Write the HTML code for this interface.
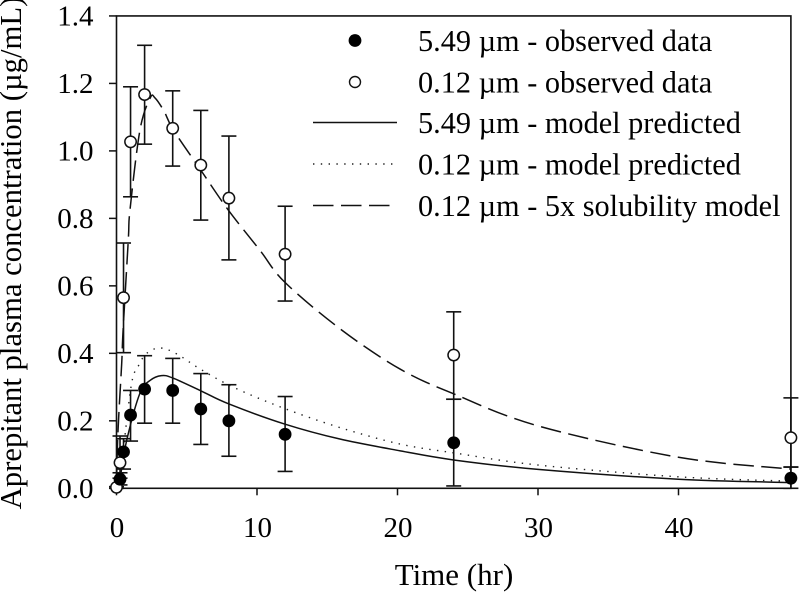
<!DOCTYPE html>
<html>
<head>
<meta charset="utf-8">
<title>Aprepitant plasma concentration</title>
<style>
html,body{margin:0;padding:0;background:#fff;width:799px;height:592px;overflow:hidden}
svg{display:block}
text{font-family:"Liberation Serif",serif;fill:#000}
</style>
</head>
<body>
<svg id="chart" xmlns="http://www.w3.org/2000/svg" width="799" height="592" viewBox="0 0 799 592"></svg>
<script>
const xTicks = [0, 10, 20, 30, 40];
const yTicks = ["0.0", "0.2", "0.4", "0.6", "0.8", "1.0", "1.2", "1.4"];
const xTitle = "Time (hr)";
const yTitle = "Aprepitant plasma concentration (µg/mL)";
const legendLabels = ["5.49 µm - observed data", "0.12 µm - observed data", "5.49 µm - model predicted", "0.12 µm - model predicted", "0.12 µm - 5x solubility model"];

const obsTimesFine = [0.25, 0.5, 1, 2, 4, 6, 8, 12, 24, 48];
const obsFine = [0.027, 0.108, 0.217, 0.294, 0.29, 0.235, 0.2, 0.16, 0.135, 0.03];
const obsFineUpper = [0.046, 0.147, 0.29, 0.393, 0.385, 0.34, 0.307, 0.272, 0.264, 0.063];
const obsFineLower = [0.01, 0.057, 0.14, 0.193, 0.193, 0.13, 0.095, 0.05, 0.007, 0];

const obsTimesNano = [0, 0.25, 0.5, 1, 2, 4, 6, 8, 12, 24, 48];
const obsNano = [0.003, 0.076, 0.565, 1.027, 1.167, 1.067, 0.958, 0.86, 0.694, 0.395, 0.15];
const obsNanoUpper = [0.005, 0.155, 0.727, 1.19, 1.313, 1.178, 1.12, 1.044, 0.836, 0.523, 0.268];
const obsNanoLower = [0, 0.03, 0.402, 0.864, 1.02, 0.955, 0.795, 0.677, 0.555, 0.264, 0.063];

const modelTimesFine = [0, 0.25, 0.73, 1.67, 2.4, 3.2, 4, 6, 8, 12, 15.9, 20.2, 24, 30, 40, 48];
const modelFine = [0, 0.03, 0.143, 0.282, 0.32, 0.334, 0.327, 0.289, 0.25, 0.19, 0.146, 0.111, 0.084, 0.056, 0.027, 0.017];

const modelTimesNano = [0, 0.25, 0.5, 1.08, 1.6, 2.15, 3.1, 4.3, 5.94, 8.3, 11.8, 15.9, 20.2, 24, 30, 40, 48];
const modelNano = [0, 0.04, 0.12, 0.312, 0.366, 0.4, 0.416, 0.398, 0.354, 0.3, 0.239, 0.18, 0.131, 0.105, 0.069, 0.034, 0.021];

const modelTimesSol = [0, 0.1, 0.37, 0.47, 0.84, 0.96, 1.67, 2.4, 2.74, 3.38, 4.05, 6, 7.95, 10.2, 12, 16, 20.2, 24, 30, 40, 48];
const modelSol = [0, 0.164, 0.37, 0.469, 0.736, 0.825, 1.062, 1.157, 1.157, 1.118, 1.062, 0.943, 0.825, 0.706, 0.61, 0.47, 0.353, 0.28, 0.185, 0.092, 0.057];

const svg = document.getElementById('chart');
const NS = 'http://www.w3.org/2000/svg';
const sx = t => 116.5 + t * 14.05;
const sy = v => 488.3 - v * 337.4;

function make(tag, attrs, parent) {
  const el = document.createElementNS(NS, tag);
  for (const k in attrs) el.setAttribute(k, attrs[k]);
  (parent || svg).appendChild(el);
  return el;
}
function group(parent) {
  return make('g', {}, parent);
}
function curvePath(ts, vs) {
  const p = ts.map((t, i) => [sx(t), sy(vs[i])]);
  let d = 'M' + p[0][0].toFixed(2) + ' ' + p[0][1].toFixed(2);
  for (let i = 0; i < p.length - 1; i++) {
    const a = p[Math.max(i - 1, 0)], b = p[i], c = p[i + 1], e = p[Math.min(i + 2, p.length - 1)];
    const c1 = [b[0] + (c[0] - a[0]) / 6, b[1] + (c[1] - a[1]) / 6];
    const c2 = [c[0] - (e[0] - b[0]) / 6, c[1] - (e[1] - b[1]) / 6];
    d += 'C' + c1[0].toFixed(2) + ' ' + c1[1].toFixed(2) + ' ' + c2[0].toFixed(2) + ' ' + c2[1].toFixed(2) + ' ' + c[0].toFixed(2) + ' ' + c[1].toFixed(2);
  }
  return d;
}

/* frame */
const frame = make('rect', {x: sx(0), y: sy(1.4), width: sx(48) - sx(0), height: sy(0) - sy(1.4), fill: 'none', stroke: '#111', 'stroke-width': 1.6});



/* y ticks and labels */
yTicks.forEach((label) => {
  const v = parseFloat(label);
  const tick = make('line', {x1: sx(0) - 7.5, x2: sx(0), y1: sy(v), y2: sy(v), stroke: '#111', 'stroke-width': 1.5});
  
  
  const txt = make('text', {x: 93.5, y: sy(v) + 9.5, 'text-anchor': 'end', 'font-size': 29});
  
  
  txt.textContent = label;
});

/* x ticks and labels */
xTicks.forEach((t) => {
  const tick = make('line', {x1: sx(t), x2: sx(t), y1: sy(0), y2: sy(0) + 7, stroke: '#111', 'stroke-width': 1.5});
  
  
  const txt = make('text', {x: sx(t) + 0.5, y: 537, 'text-anchor': 'middle', 'font-size': 29});
  
  
  txt.textContent = t;
});

const xt = make('text', {x: 454, y: 585, 'text-anchor': 'middle', 'font-size': 31});


xt.textContent = xTitle;

const yt = make('text', {x: 0, y: 0, 'text-anchor': 'middle', 'font-size': 30.7, transform: 'translate(21 253) rotate(-90)'});


yt.textContent = yTitle;

/* model curves */
const solidStyle = {fill: 'none', stroke: '#111', 'stroke-width': 1.5};
const dottedStyle = {fill: 'none', stroke: '#222', 'stroke-width': 1.4, 'stroke-dasharray': '1.4 6.4'};
const dashedStyle = {fill: 'none', stroke: '#111', 'stroke-width': 1.5, 'stroke-dasharray': '20.5 7.5'};

const curveFine = make('path', Object.assign({d: curvePath(modelTimesFine, modelFine)}, solidStyle));


const curveNano = make('path', Object.assign({d: curvePath(modelTimesNano, modelNano)}, dottedStyle));


const curveSol = make('path', Object.assign({d: curvePath(modelTimesSol, modelSol)}, dashedStyle));



/* observed series */
function errorBars(ts, up, lo, gName) {
  const g = group();
  
  
  ts.forEach((t, i) => {
    const x = sx(t);
    const style = {stroke: '#111', 'stroke-width': 1.6};
    make('line', Object.assign({x1: x, x2: x, y1: sy(up[i]), y2: sy(lo[i])}, style), g);
    make('line', Object.assign({x1: x - 7.5, x2: x + 7.5, y1: sy(up[i]), y2: sy(up[i])}, style), g);
    make('line', Object.assign({x1: x - 7.5, x2: x + 7.5, y1: sy(lo[i]), y2: sy(lo[i])}, style), g);
  });
}
errorBars(obsTimesNano, obsNanoUpper, obsNanoLower, 'error-bars-0-12-um');
errorBars(obsTimesFine, obsFineUpper, obsFineLower, 'error-bars-5-49-um');

obsTimesNano.forEach((t, i) => {
  const c = make('circle', {cx: sx(t), cy: sy(obsNano[i]), r: 5.7, fill: '#fff', stroke: '#111', 'stroke-width': 1.5});
  
  
});
obsTimesFine.forEach((t, i) => {
  const c = make('circle', {cx: sx(t), cy: sy(obsFine[i]), r: 6.4, fill: '#000'});
  
  
});

/* legend */
const legendRows = [40.5, 82, 122.5, 164, 205.5];
const legend = group();


legendLabels.forEach((label, i) => {
  const y = legendRows[i];
  const txt = make('text', {x: 418, y: y + 10.5, 'font-size': 30.3}, legend);
  
  
  txt.textContent = label;
});
const lm1 = make('circle', {cx: 355, cy: legendRows[0], r: 6.4, fill: '#000'}, legend);


const lm2 = make('circle', {cx: 355, cy: legendRows[1], r: 5.5, fill: '#fff', stroke: '#111', 'stroke-width': 1.4}, legend);


const ll1 = make('line', Object.assign({x1: 313, x2: 397, y1: legendRows[2], y2: legendRows[2]}, solidStyle), legend);


const ll2 = make('line', Object.assign({x1: 313, x2: 397, y1: legendRows[3], y2: legendRows[3]}, dottedStyle), legend);


const ll3 = make('line', Object.assign({x1: 313, x2: 397, y1: legendRows[4], y2: legendRows[4]}, dashedStyle), legend);


</script>
</body>
</html>
